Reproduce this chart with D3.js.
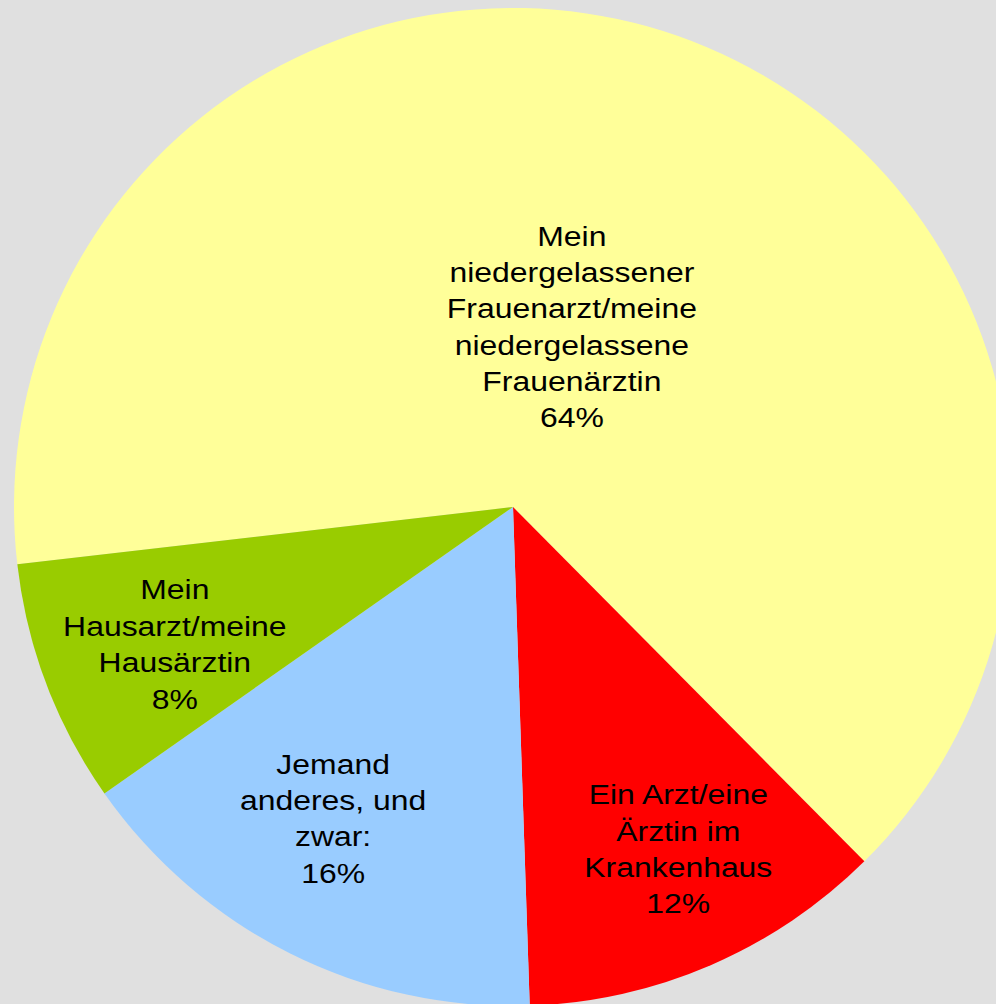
<!DOCTYPE html>
<html>
<head>
<meta charset="utf-8">
<script src="https://cdn.jsdelivr.net/npm/d3@7"></script>
<style>
  html, body { margin: 0; padding: 0; background: #e0e0e0; overflow: hidden; }
  #plot { width: 996px; height: 1004px; }
  text { font-family: "Liberation Sans", Arial, sans-serif; }
</style>
</head>
<body>
<div id="plot"></div>
<script>
// chart data
const categories = [
    "Mein\nniedergelassener\nFrauenarzt/meine\nniedergelassene\nFrauenärztin",
    "Ein Arzt/eine\nÄrztin im\nKrankenhaus",
    "Jemand\nanderes, und\nzwar:",
    "Mein\nHausarzt/meine\nHausärztin"
];
const values = [64.4, 11.9, 15.8, 7.9];
const colors = ["#ffff99", "#ff0000", "#99ccff", "#99cc00"];

var plotDiv = document.getElementById("plot");
var width = plotDiv.clientWidth;
var height = plotDiv.clientHeight;

const cx = 513, cy = 507, radius = 499;

const svg = d3.select("#plot")
    .append("svg")
    .attr("width", width)
    .attr("height", height);

svg.append("rect")
    .attr("width", width)
    .attr("height", height)
    .attr("fill", "#e0e0e0");

const g = svg.append("g")
    .attr("transform", "translate(" + cx + "," + cy + ")");

const data = categories.map((c, i) => ({name: c, value: values[i], color: colors[i]}));

const startA = -96.6 * Math.PI / 180;
const pie = d3.pie()
    .sort(null)
    .value(d => d.value)
    .startAngle(startA)
    .endAngle(startA + 2 * Math.PI);

const arcs = pie(data);

const arc = d3.arc()
    .innerRadius(0)
    .outerRadius(radius);

g.selectAll("path.slice")
    .data(arcs)
    .enter()
    .append("path")
    .attr("class", "slice")
    .attr("d", arc)
    .attr("fill", d => d.data.color);

// labels: big slice closer to the centre, small nudges to match layout
const lh = 36.4;
const nudge = [[-4, -1], [19, 3], [-15, -19], [7, 6]];
const labels = g.selectAll("text.lbl")
    .data(arcs)
    .enter()
    .append("text")
    .attr("class", "lbl")
    .attr("text-anchor", "middle")
    .attr("font-size", "28px")
    .attr("fill", "#000")
    .attr("transform", (d, i) => {
        const r = d.data.value > 50 ? 190 : 0.74 * radius;
        const a = (d.startAngle + d.endAngle) / 2;
        return "translate(" + (r * Math.sin(a) + nudge[i][0]) + "," + (-r * Math.cos(a) + nudge[i][1]) + ") scale(1.14,1)";
    });

labels.each(function(d) {
    const lines = d.data.name.split("\n").concat([Math.round(d.data.value) + "%"]);
    const off = -(lines.length - 1) / 2 * lh;
    d3.select(this).selectAll("tspan")
        .data(lines)
        .enter()
        .append("tspan")
        .attr("x", 0)
        .attr("y", (l, i) => off + i * lh)
        .attr("dy", "0.35em")
        .text(l => l);
});
</script>
</body>
</html>
